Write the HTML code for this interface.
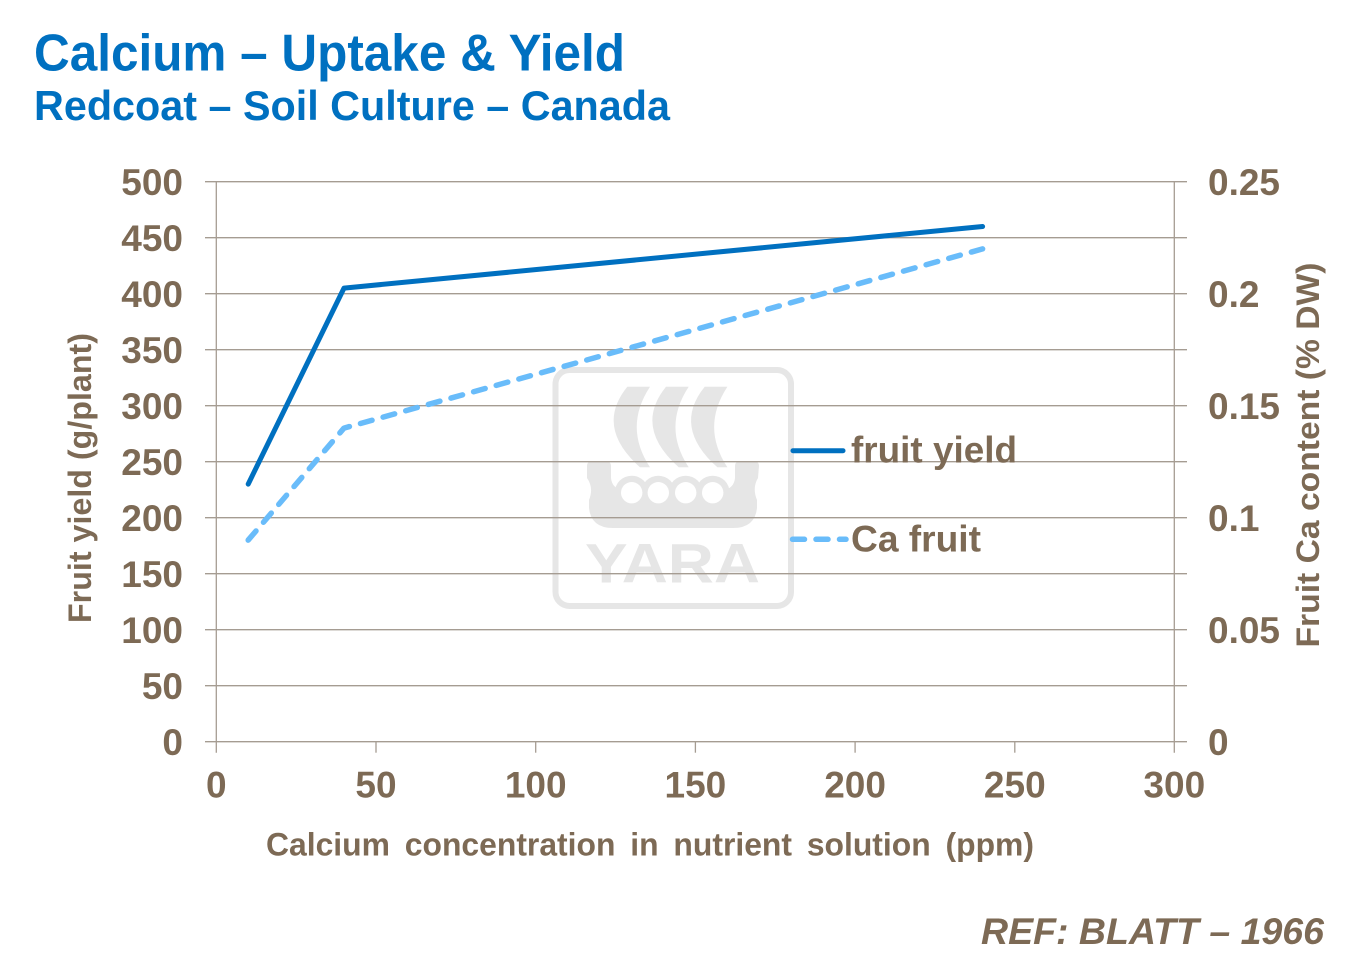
<!DOCTYPE html>
<html>
<head>
<meta charset="utf-8">
<style>
  html, body { margin:0; padding:0; background:#ffffff; }
  svg { display:block; }
  text { font-family: "Liberation Sans", Arial, sans-serif; font-weight:bold; }
</style>
</head>
<body>
<svg width="1347" height="977" viewBox="0 0 1347 977" xmlns="http://www.w3.org/2000/svg">
  <rect x="0" y="0" width="1347" height="977" fill="#ffffff"/>

  <!-- Titles -->
  <text x="34" y="70.7" font-size="52" fill="#0070C0" textLength="591" lengthAdjust="spacingAndGlyphs">Calcium – Uptake &amp; Yield</text>
  <text x="34" y="120" font-size="42" fill="#0070C0" textLength="636" lengthAdjust="spacingAndGlyphs">Redcoat – Soil Culture – Canada</text>

  <!-- Watermark -->
  <g fill="#E6E6E6">
    <rect x="555.5" y="370" width="235.5" height="236" rx="14" ry="14" fill="none" stroke="#E6E6E6" stroke-width="6"/>
    <path d="M 627.3 386.7 L 650 386.7 Q 623.5 427 650 467.3 L 640 467.3 Q 594.7 427 627.3 386.7 Z"/>
    <path d="M 666 386.7 L 688.7 386.7 Q 662.2 427 688.7 467.3 L 678.7 467.3 Q 633.4 427 666 386.7 Z"/>
    <path d="M 704.7 386.7 L 727.4 386.7 Q 700.9 427 727.4 467.3 L 717.4 467.3 Q 672.1 427 704.7 386.7 Z"/>
    <path d="M 589 462 L 609 462 Q 611 463 611 466 L 611 478 Q 612 488 622 490 L 724 490 Q 734 488 735 478 L 735 466 Q 735 463 737 462 L 757 462 Q 759 463 759 466 L 758 478 Q 752 488 757 500 L 757 508 Q 755 528 733 528 L 613 528 Q 591 528 589 508 L 589 500 Q 594 488 587 478 L 587 466 Q 587 463 589 462 Z"/>
    <circle cx="631.7" cy="492.7" r="17"/>
    <circle cx="658.3" cy="492.7" r="17"/>
    <circle cx="685.7" cy="492.7" r="17"/>
    <circle cx="712.7" cy="492.7" r="17"/>
    <circle cx="631.7" cy="492.7" r="10.7" fill="#ffffff"/>
    <circle cx="658.3" cy="492.7" r="10.7" fill="#ffffff"/>
    <circle cx="685.7" cy="492.7" r="10.7" fill="#ffffff"/>
    <circle cx="712.7" cy="492.7" r="10.7" fill="#ffffff"/>
    <text x="585" y="582.7" font-size="56" fill="#E6E6E6" textLength="175" lengthAdjust="spacingAndGlyphs">YARA</text>
  </g>

  <!-- Gridlines -->
  <g stroke="#A59C92" stroke-width="1.3">
    <line x1="205" y1="181.7" x2="1187" y2="181.7"/>
    <line x1="205" y1="237.7" x2="1187" y2="237.7"/>
    <line x1="205" y1="293.7" x2="1187" y2="293.7"/>
    <line x1="205" y1="349.7" x2="1187" y2="349.7"/>
    <line x1="205" y1="405.7" x2="1187" y2="405.7"/>
    <line x1="205" y1="461.7" x2="1187" y2="461.7"/>
    <line x1="205" y1="517.7" x2="1187" y2="517.7"/>
    <line x1="205" y1="573.7" x2="1187" y2="573.7"/>
    <line x1="205" y1="629.7" x2="1187" y2="629.7"/>
    <line x1="205" y1="685.7" x2="1187" y2="685.7"/>
    <line x1="205" y1="741.7" x2="1187" y2="741.7"/>
    <!-- axes -->
    <line x1="216.3" y1="181.7" x2="216.3" y2="752.7"/>
    <line x1="1174.3" y1="181.7" x2="1174.3" y2="752.7"/>
    <!-- x ticks -->
    <line x1="376" y1="741.7" x2="376" y2="752.7"/>
    <line x1="535.7" y1="741.7" x2="535.7" y2="752.7"/>
    <line x1="695.4" y1="741.7" x2="695.4" y2="752.7"/>
    <line x1="855.1" y1="741.7" x2="855.1" y2="752.7"/>
    <line x1="1014.8" y1="741.7" x2="1014.8" y2="752.7"/>
  </g>

  <!-- Left tick labels -->
  <g fill="#7D6A55" font-size="37" text-anchor="end">
    <text x="183" y="195">500</text>
    <text x="183" y="251">450</text>
    <text x="183" y="307">400</text>
    <text x="183" y="363">350</text>
    <text x="183" y="419">300</text>
    <text x="183" y="475">250</text>
    <text x="183" y="531">200</text>
    <text x="183" y="587">150</text>
    <text x="183" y="643">100</text>
    <text x="183" y="699">50</text>
    <text x="183" y="755">0</text>
  </g>

  <!-- Right tick labels -->
  <g fill="#7D6A55" font-size="37" text-anchor="start">
    <text x="1208" y="195">0.25</text>
    <text x="1208" y="307">0.2</text>
    <text x="1208" y="419">0.15</text>
    <text x="1208" y="531">0.1</text>
    <text x="1208" y="643">0.05</text>
    <text x="1208" y="755">0</text>
  </g>

  <!-- X tick labels -->
  <g fill="#7D6A55" font-size="37" text-anchor="middle">
    <text x="216.3" y="797.5">0</text>
    <text x="376" y="797.5">50</text>
    <text x="535.7" y="797.5">100</text>
    <text x="695.4" y="797.5">150</text>
    <text x="855.1" y="797.5">200</text>
    <text x="1014.8" y="797.5">250</text>
    <text x="1174.3" y="797.5">300</text>
  </g>

  <!-- Axis titles -->
  <text transform="translate(91,478) rotate(-90)" text-anchor="middle" font-size="32" fill="#7D6A55" textLength="290" lengthAdjust="spacingAndGlyphs">Fruit yield (g/plant)</text>
  <text transform="translate(1319,455) rotate(-90)" text-anchor="middle" font-size="32" fill="#7D6A55" textLength="385" lengthAdjust="spacingAndGlyphs">Fruit Ca content (% DW)</text>
  <text x="266" y="855.5" font-size="32" fill="#7D6A55" textLength="768" lengthAdjust="spacingAndGlyphs" word-spacing="6">Calcium concentration in nutrient solution (ppm)</text>

  <!-- Series -->
  <polyline points="248.2,540.1 344,428.1 982.6,248.9" fill="none" stroke="#69BCFA" stroke-width="5.5" stroke-dasharray="12 11.5" stroke-linecap="round" stroke-linejoin="round"/>
  <polyline points="248.2,484.1 344,288.1 982.6,226.5" fill="none" stroke="#0070C0" stroke-width="5" stroke-linecap="round" stroke-linejoin="round"/>

  <!-- Legend -->
  <line x1="793" y1="450.7" x2="843" y2="450.7" stroke="#0070C0" stroke-width="5" stroke-linecap="round"/>
  <text x="851" y="462.7" font-size="37" fill="#7D6A55" textLength="166" lengthAdjust="spacingAndGlyphs">fruit yield</text>
  <line x1="792.5" y1="539.3" x2="846" y2="539.3" stroke="#69BCFA" stroke-width="5.5" stroke-dasharray="12 11.5" stroke-linecap="round"/>
  <text x="851" y="551.7" font-size="37" fill="#7D6A55" textLength="130" lengthAdjust="spacingAndGlyphs">Ca fruit</text>

  <!-- Reference -->
  <text x="981" y="944" font-size="37" font-style="italic" fill="#7D6A55" textLength="343" lengthAdjust="spacingAndGlyphs">REF: BLATT – 1966</text>
</svg>
</body>
</html>
